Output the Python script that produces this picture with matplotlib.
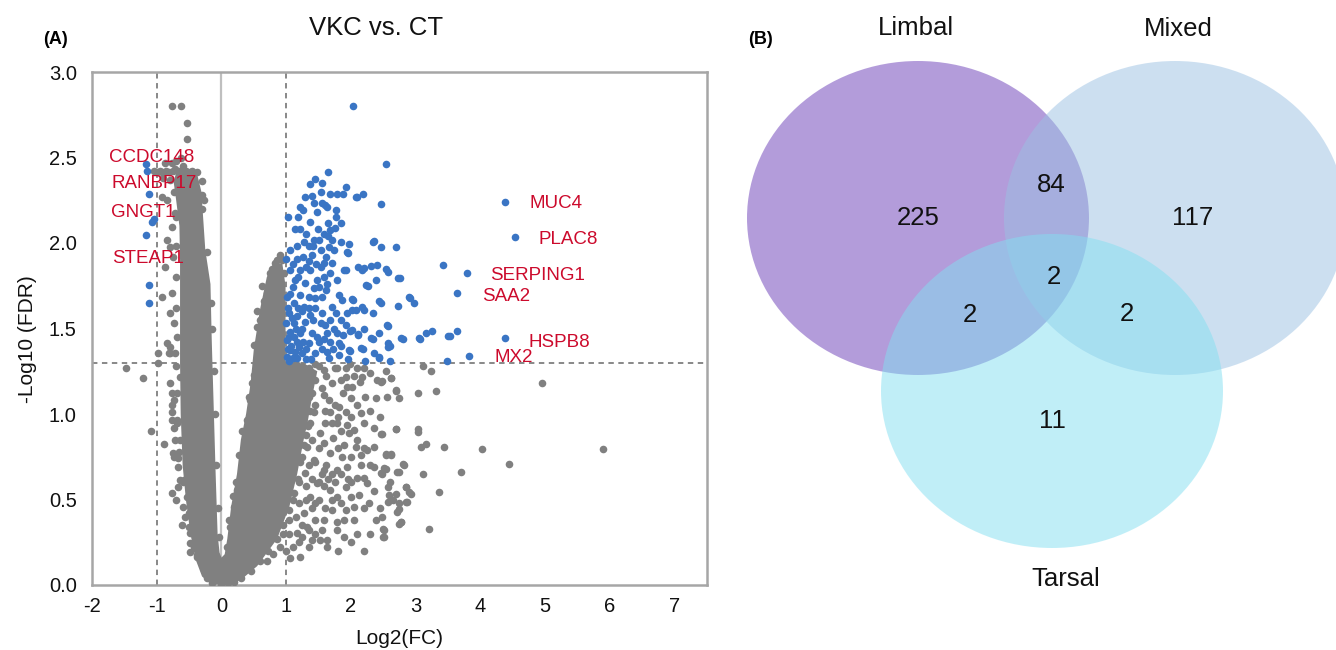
import numpy as np
import matplotlib.pyplot as plt
from matplotlib.patches import Ellipse

plt.rcParams['font.family'] = ['Liberation Sans', 'DejaVu Sans']

gray_color = "#808080"
blue_color = "#3a75c4"
label_color = "#cc0a2c"

fc_cut = 1.0
fdr_cut = 1.3

# outline of the solid V where the gray genes overlap completely (log2FC, -log10 FDR)
core_outline = np.array([
    (-0.15, 0.0), (-0.3, 0.05), (-0.4, 0.15), (-0.48, 0.3), (-0.55, 0.5), (-0.6, 0.7),
    (-0.63, 1.0), (-0.64, 1.3), (-0.64, 1.6), (-0.64, 1.9), (-0.65, 2.1), (-0.7, 2.25),
    (-0.74, 2.36), (-0.7, 2.41), (-0.38, 2.41), (-0.31, 2.3), (-0.25, 1.96), (-0.17, 1.76),
    (-0.15, 1.43), (-0.12, 1.04), (-0.09, 0.65), (-0.06, 0.3), (-0.03, 0.19),
    (0.0, 0.16), (0.05, 0.18), (0.09, 0.27), (0.15, 0.46), (0.24, 0.65), (0.3, 0.85),
    (0.38, 1.0), (0.45, 1.18), (0.5, 1.38), (0.6, 1.62), (0.7, 1.8), (0.8, 1.88),
    (0.94, 1.88), (0.99, 1.75), (0.99, 1.3), (1.3, 1.29), (1.48, 1.25), (1.4, 1.1),
    (1.33, 0.95), (1.27, 0.85), (1.17, 0.65), (1.05, 0.46), (0.86, 0.27), (0.55, 0.11),
    (0.3, 0.03), (0.1, 0.0),
])

# individually visible non-significant genes
gray_points = np.array([
    (-0.767, 2.801), (-0.622, 2.801), (-0.535, 2.70), (-0.535, 2.608),
    (-0.87, 2.466), (-0.767, 2.466), (-1.0, 2.415), (-0.922, 2.415), (-0.818, 2.415),
    (-0.72, 2.43), (-0.483, 2.417), (-0.38, 2.417), (-0.302, 2.28), (-1.05, 2.42),
    (-0.95, 2.42), (-0.85, 2.42), (-0.75, 2.42), (-0.65, 2.42), (-0.55, 2.42), (-0.45, 2.42),
    (-0.7, 2.48), (-0.6, 2.45), (-0.62, 2.5), (-0.8, 2.37), (-0.9, 2.38), (-0.74, 2.3),
    (-0.844, 2.017), (-0.793, 1.978), (-0.751, 1.92), (-0.87, 1.862), (-0.767, 1.706),
    (-0.793, 1.589), (-0.741, 1.53), (-0.844, 1.413), (-0.818, 1.355), (-0.715, 1.355),
    (-0.922, 2.27), (-0.844, 2.25), (-0.715, 2.173), (-0.767, 2.095), (-0.922, 1.682),
    (-0.793, 1.394), (-1.474, 1.267), (-1.205, 1.209), (-0.973, 1.355), (-0.973, 1.297),
    (-0.793, 1.355), (-1.087, 0.903), (-0.886, 0.825), (-0.767, 1.121), (-0.767, 1.053),
    (-0.741, 0.917), (-0.767, 0.965), (-0.715, 0.848), (-0.741, 0.751), (-0.679, 0.692),
    (-0.767, 0.536), (-0.70, 0.497), (-0.612, 0.351), (-0.483, 0.302), (-0.493, 0.195),
    (-0.38, 0.176), (-0.648, 0.614), (-0.648, 1.219),
    (-0.793, 1.18), (-0.741, 1.082), (-0.767, 1.014), (-0.69, 0.965), (-0.638, 0.848),
    (-0.751, 0.77), (-0.664, 0.741), (-0.586, 0.614), (-0.664, 0.575), (-0.535, 0.517),
    (-0.597, 0.458), (-0.56, 0.40), (-0.509, 0.341), (-0.483, 0.244), (-0.38, 0.166),
    (-0.277, 0.088),
    (-0.42, 0.22), (-0.5, 0.42), (-0.6, 0.6), (-0.66, 0.78), (-0.68, 0.95), (-0.69, 1.12),
    (-0.7, 1.28), (-0.69, 1.45), (-0.7, 1.62), (-0.7, 1.8), (-0.7, 1.98), (-0.71, 2.15),
    (-0.3, 2.2), (-0.23, 1.95), (-0.16, 1.65), (-0.14, 1.5), (-0.12, 1.25), (-0.1, 1.0),
    (-0.08, 0.7), (-0.06, 0.45), (-0.04, 0.28), (-0.3, 2.36), (-0.27, 2.25),
    (-0.15, 0.01), (0.0, 0.0), (0.1, 0.01), (-0.22, 0.04), (0.2, 0.02),
    (0.833, 1.881), (0.755, 1.823), (0.704, 1.706), (0.652, 1.608), (0.549, 1.511),
    (0.523, 1.404), (0.626, 1.569), (0.858, 1.803), (0.936, 1.90), (0.962, 1.823),
    (0.508, 1.404), (0.652, 1.394), (0.781, 1.384), (0.497, 1.228), (0.446, 1.082),
    (0.394, 0.965), (0.368, 0.897), (0.317, 0.751), (0.239, 0.556), (0.188, 0.458),
    (0.136, 0.341), (0.085, 0.224), (0.12, 0.38), (0.18, 0.52), (0.22, 0.6), (0.27, 0.76),
    (0.32, 0.9), (0.42, 1.1), (0.47, 1.18), (0.53, 1.3), (0.6, 1.55), (0.66, 1.66),
    (0.73, 1.76), (0.78, 1.85), (0.85, 1.9), (0.9, 1.93), (0.55, 1.6), (0.62, 1.75),
    (1.5, 1.28), (1.45, 1.2), (1.4, 1.12), (1.36, 1.02), (1.33, 0.93), (1.28, 0.82),
    (1.22, 0.72), (1.18, 0.62), (1.12, 0.54), (1.05, 0.44), (0.95, 0.35), (0.85, 0.27),
    (0.72, 0.2), (0.6, 0.14), (0.45, 0.08), (0.3, 0.04),
    (1.06, 1.27), (1.15, 1.29), (1.25, 1.28), (1.35, 1.27), (1.45, 1.29), (1.62, 1.22),
    (1.7, 1.18), (1.55, 1.15), (1.66, 1.08), (1.75, 1.27), (1.98, 1.29), (2.2, 1.27),
    (2.3, 1.24), (1.88, 1.12), (2.02, 1.16), (2.22, 1.1), (2.3, 1.02), (1.8, 0.98),
    (1.6, 0.95), (1.72, 0.86), (1.9, 0.82), (1.62, 0.7), (1.5, 0.6), (1.45, 0.48),
    (1.6, 0.45), (1.55, 0.32), (1.35, 0.22), (1.2, 0.25), (1.45, 0.38), (1.58, 0.58),
    (1.0, 1.2), (1.1, 1.15), (1.2, 1.2), (1.3, 1.15), (1.05, 1.05), (1.15, 1.0),
    (1.25, 1.05), (1.35, 1.1), (1.45, 1.05), (1.1, 0.9), (1.2, 0.95), (1.3, 0.88),
    (1.4, 0.85), (1.5, 0.8), (1.05, 0.8), (1.15, 0.78), (1.25, 0.75), (1.35, 0.7),
    (1.45, 0.72), (1.1, 0.68), (1.2, 0.6), (1.3, 0.58), (1.4, 0.62), (1.55, 0.65),
    (1.0, 0.55), (1.1, 0.5), (1.2, 0.48), (1.3, 0.5), (1.4, 0.45), (1.5, 0.5),
    (1.05, 0.38), (1.15, 0.4), (1.25, 0.35), (1.35, 0.32), (1.45, 0.3), (0.95, 0.3),
    (1.05, 0.3), (1.1, 0.22), (1.25, 0.28), (0.9, 0.22), (1.0, 0.2), (0.8, 0.18),
    (0.7, 0.14), (1.65, 0.62), (1.7, 0.65), (1.75, 0.6), (1.85, 0.65), (1.7, 0.5),
    (1.85, 0.48), (1.95, 0.62), (1.6, 1.02), (1.75, 1.05), (1.85, 1.2), (2.05, 1.22),
    (2.1, 1.05), (2.0, 0.98), (2.2, 0.95), (2.35, 0.92), (2.45, 0.98), (2.4, 1.2),
    (2.55, 1.1), (1.7, 0.95), (1.85, 0.9), (2.1, 0.85), (2.2, 0.8), (2.0, 0.75),
    (1.8, 0.8), (2.3, 0.7), (2.15, 0.7), (2.0, 0.6), (2.35, 0.55), (2.2, 0.45),
    (2.45, 0.45), (2.1, 0.3), (2.3, 0.3), (2.0, 0.25), (2.2, 0.2), (1.8, 0.2),
    (1.9, 0.38), (2.6, 0.6), (2.65, 0.5),
    (1.581, 1.258), (1.787, 1.267), (1.916, 1.267), (2.097, 1.267), (1.916, 1.219),
    (1.942, 1.16), (2.174, 1.219), (2.138, 1.189), (2.38, 1.092), (2.458, 1.189),
    (2.613, 1.209), (2.69, 1.141), (1.994, 1.092), (1.813, 1.043), (1.581, 1.111),
    (1.684, 1.014), (1.916, 1.014), (2.148, 1.004), (1.787, 0.946), (1.942, 0.936),
    (2.045, 0.907), (1.968, 0.887), (2.69, 0.911), (2.458, 0.883), (1.529, 0.887),
    (1.375, 0.946), (1.581, 0.829), (2.071, 0.809), (2.148, 0.761), (2.251, 0.79),
    (2.355, 0.809), (2.535, 0.761), (2.613, 0.761), (2.355, 0.692), (2.51, 0.682),
    (2.458, 0.653), (2.82, 0.702), (2.716, 0.663), (1.865, 0.751), (1.787, 0.673),
    (1.942, 0.692), (2.097, 0.624), (2.20, 0.624), (2.251, 0.595), (1.916, 0.575),
    (1.684, 0.556), (1.787, 0.517), (1.994, 0.517), (2.122, 0.527), (2.277, 0.478),
    (2.045, 0.458), (1.916, 0.439), (1.71, 0.439), (1.581, 0.38), (1.787, 0.371),
    (2.045, 0.38), (2.38, 0.38), (2.51, 0.322), (2.51, 0.283), (1.787, 0.322),
    (1.89, 0.283), (1.632, 0.263), (1.529, 0.263), (1.632, 0.224), (1.40, 0.263),
    (1.22, 0.166), (1.065, 0.156), (2.742, 0.478), (2.845, 0.575), (2.587, 0.527),
    (2.716, 0.429), (2.768, 0.371), (2.87, 0.488), (1.323, 0.809), (1.426, 0.731),
    (1.297, 0.653), (1.477, 0.595), (1.375, 0.517), (1.271, 0.419), (1.323, 0.341),
    (1.168, 0.302), (1.581, 0.673), (1.684, 0.77), (1.426, 1.014), (1.271, 1.082),
    (1.271, 1.16), (1.375, 1.219), (1.168, 1.238),
    (3.119, 1.281), (3.242, 1.252), (2.535, 1.252), (2.613, 1.209), (2.484, 1.195),
    (2.69, 1.137), (2.742, 1.092), (3.041, 1.121), (3.32, 1.137), (4.955, 1.18),
    (2.69, 0.913), (3.041, 0.911), (3.041, 0.895), (2.484, 0.883), (3.087, 0.809),
    (3.155, 0.823), (3.438, 0.809), (4.021, 0.796), (5.89, 0.796), (2.535, 0.766),
    (2.613, 0.766), (2.809, 0.708), (4.445, 0.708), (2.535, 0.677), (2.742, 0.663),
    (2.484, 0.649), (3.119, 0.649), (3.707, 0.663), (2.572, 0.575), (2.845, 0.575),
    (2.897, 0.546), (2.933, 0.531), (3.361, 0.546), (2.69, 0.532), (2.572, 0.488),
    (2.845, 0.488), (2.742, 0.443), (2.484, 0.40), (2.742, 0.357), (2.778, 0.371),
    (3.206, 0.326), (2.50, 0.326), (2.50, 0.279),
])

# significant genes (|log2FC| > 1 and -log10 FDR > 1.3)
blue_points = np.array([
    (2.536, 2.462), (1.643, 2.417), (1.452, 2.374), (1.375, 2.345), (1.555, 2.349),
    (1.917, 2.329), (1.53, 2.30), (1.297, 2.271), (1.40, 2.275), (1.684, 2.286),
    (1.788, 2.286), (1.88, 2.286), (2.071, 2.271), (2.19, 2.286), (1.426, 2.236),
    (1.555, 2.236), (1.633, 2.212), (2.458, 2.226), (1.22, 2.212), (1.261, 2.193),
    (1.762, 2.193), (1.024, 2.150), (1.179, 2.150), (1.762, 2.150), (1.839, 2.118),
    (1.643, 2.118), (1.143, 2.08), (1.22, 2.08), (1.488, 2.08), (1.684, 2.076),
    (1.643, 2.041), (1.272, 2.007), (1.426, 2.017), (1.504, 2.017), (1.71, 2.017),
    (1.839, 2.007), (2.345, 2.007), (1.168, 1.982), (1.349, 1.982), (1.658, 1.978),
    (1.968, 1.994), (2.469, 1.974), (2.69, 1.974), (1.055, 1.959), (1.53, 1.959),
    (1.736, 1.959), (1.40, 1.929), (1.953, 1.943), (1.004, 1.904), (1.168, 1.904),
    (1.349, 1.896), (1.581, 1.881), (1.71, 1.881), (2.113, 1.857), (2.20, 1.851),
    (2.314, 1.865), (2.407, 1.871), (2.536, 1.846), (1.917, 1.842), (3.428, 1.871),
    (1.055, 1.842), (1.21, 1.842), (1.375, 1.842), (1.53, 1.861), (1.684, 1.822),
    (1.143, 1.783), (1.297, 1.764), (1.478, 1.783), (1.633, 1.760), (1.777, 1.783),
    (2.381, 1.783), (2.226, 1.754), (2.732, 1.797), (1.106, 1.744), (1.426, 1.735),
    (1.607, 1.725), (1.014, 1.686), (1.22, 1.696), (1.349, 1.686), (1.555, 1.686),
    (1.813, 1.696), (2.035, 1.666), (2.897, 1.682), (2.974, 1.651), (1.117, 1.647),
    (1.272, 1.627), (1.452, 1.618), (1.71, 1.627), (1.865, 1.666), (2.174, 1.627),
    (2.458, 1.651), (2.732, 1.633), (1.04, 1.588), (1.168, 1.573), (1.375, 1.579),
    (1.555, 1.588), (1.762, 1.588), (1.942, 1.588), (2.071, 1.608), (2.345, 1.592),
    (1.003, 1.53), (1.117, 1.53), (1.297, 1.54), (1.53, 1.53), (1.684, 1.549),
    (1.917, 1.52), (2.02, 1.491), (2.561, 1.52), (1.065, 1.481), (1.22, 1.471),
    (1.40, 1.471), (1.633, 1.471), (1.788, 1.471), (2.107, 1.461), (2.303, 1.442),
    (2.432, 1.471), (2.768, 1.442), (3.155, 1.471), (3.248, 1.487), (3.506, 1.458),
    (1.014, 1.432), (1.168, 1.423), (1.349, 1.413), (1.504, 1.423), (1.684, 1.423),
    (1.813, 1.413), (1.968, 1.374), (2.149, 1.384), (2.572, 1.413), (2.572, 1.393),
    (1.065, 1.374), (1.245, 1.354), (1.452, 1.354), (1.633, 1.364), (1.813, 1.345),
    (2.355, 1.354), (2.432, 1.335), (1.01, 1.335), (1.168, 1.325),
    (3.052, 1.442), (3.635, 1.487), (3.48, 1.31), (3.826, 1.341), (4.378, 1.442),
    (3.635, 1.705), (3.79, 1.826), (4.533, 2.033), (4.378, 2.237), (2.035, 2.801),
    (2.60, 1.31), (2.60, 1.40), (2.34, 1.44), (2.44, 1.33), (2.21, 1.31), (2.18, 1.38),
    (1.99, 1.37), (1.96, 1.32), (1.85, 1.40), (2.20, 1.61), (2.44, 1.66), (2.26, 1.75),
    (2.17, 1.84), (2.57, 1.83), (2.75, 1.795), (2.36, 2.01), (1.94, 1.95), (1.89, 1.84),
    (2.02, 1.67), (2.02, 1.61), (2.20, 1.50), (2.11, 1.47), (1.98, 1.485), (2.91, 1.68),
    (2.80, 1.44), (3.07, 1.44), (3.53, 1.456), (2.57, 1.516), (2.09, 2.27),
    (1.05, 1.31), (1.1, 1.33), (1.13, 1.36), (1.08, 1.40), (1.12, 1.45), (1.04, 1.45),
    (1.2, 1.39), (1.26, 1.42), (1.3, 1.38), (1.15, 1.50), (1.25, 1.50), (1.3, 1.32),
    (1.38, 1.32), (1.03, 1.38), (1.09, 1.56), (1.02, 1.62), (1.06, 1.70), (1.18, 1.62),
    (1.25, 1.60), (1.35, 1.62), (1.42, 1.55), (1.48, 1.45), (1.55, 1.38), (1.58, 1.44),
    (1.6, 1.52), (1.66, 1.33), (1.72, 1.38), (1.74, 1.50), (1.84, 1.55), (1.87, 1.46),
    (1.44, 1.68), (1.50, 1.74), (1.58, 1.80), (1.62, 1.92), (1.46, 1.88), (1.30, 1.86),
    (1.18, 1.80), (1.10, 1.88), (1.26, 1.92), (1.42, 1.98), (1.58, 2.05), (1.75, 2.09),
    (1.60, 2.22), (1.48, 2.18), (1.36, 2.12), (1.30, 2.05),
    (-1.164, 2.462), (-1.143, 2.423), (-1.113, 2.284), (-1.076, 2.125), (-1.05, 2.14),
    (-1.164, 2.047), (-1.123, 1.752), (-1.123, 1.651),
])

genes = ["CCDC148", "RANBP17", "GNGT1", "STEAP1", "MUC4", "PLAC8", "SERPING1", "SAA2", "HSPB8", "MX2"]
gene_x = [-1.74, -1.70, -1.70, -1.69, 4.76, 4.90, 4.15, 4.02, 4.75, 4.22]
gene_y = [2.50, 2.35, 2.18, 1.91, 2.23, 2.02, 1.81, 1.69, 1.42, 1.33]

x_ticks = [-2, -1, 0, 1, 2, 3, 4, 5, 6, 7]
y_ticks = [0.0, 0.5, 1.0, 1.5, 2.0, 2.5, 3.0]

# Venn counts, regions keyed Limbal/Mixed/Tarsal membership
venn_sets = ["Limbal", "Mixed", "Tarsal"]
venn_counts = {"100": 225, "010": 117, "001": 11, "110": 84, "101": 2, "011": 2, "111": 2}

W, H = 1336, 650
fig = plt.figure(figsize=(W / 100, H / 100), dpi=100)

# ---- (A) volcano plot
ax = fig.add_axes([92 / W, 65 / H, 615 / W, 513 / H])
ax.set_xlim(-2, 7.5)
ax.set_ylim(0, 3)

ax.axvline(0, color="#bfbfbf", lw=1.6, zorder=1)
for xv in (-fc_cut, fc_cut):
    ax.axvline(xv, color="#7f7f7f", lw=1.3, ls=(0, (3, 2.5)), zorder=1)
ax.axhline(fdr_cut, color="#7f7f7f", lw=1.3, ls=(0, (3, 2.5)), zorder=1)

ax.fill(core_outline[:, 0], core_outline[:, 1], color=gray_color, lw=0, zorder=2)
ax.scatter(gray_points[:, 0], gray_points[:, 1], s=30, color=gray_color, lw=0, zorder=3)
ax.scatter(blue_points[:, 0], blue_points[:, 1], s=30, color=blue_color, lw=0, zorder=4)

for g, gx, gy in zip(genes, gene_x, gene_y):
    ax.text(gx, gy, g, color=label_color, fontsize=13.5, ha="left", va="center", zorder=5)

ax.set_xticks(x_ticks)
ax.set_xticklabels([str(t) for t in x_ticks])
ax.set_yticks(y_ticks)
ax.set_yticklabels([f"{t:.1f}" for t in y_ticks])
ax.tick_params(length=0, labelsize=14.5, colors="#111111")
ax.tick_params(axis="y", pad=11)
ax.tick_params(axis="x", pad=9)
for sp in ax.spines.values():
    sp.set_color("#a6a6a6")
    sp.set_linewidth(1.8)
ax.set_xlabel("Log2(FC)", fontsize=15, color="#111111")
ax.set_ylabel("-Log10 (FDR)", fontsize=15, color="#111111")
ax.xaxis.set_label_coords(0.5, -0.086)
ax.yaxis.set_label_coords(-0.09, 0.48)

fig.text(376 / W, 1 - 28 / H, "VKC vs. CT", fontsize=18.5, ha="center", va="center", color="#111111")
fig.text(55 / W, 1 - 39 / H, "(A)", fontsize=13, fontweight="bold", ha="center", va="center")

# ---- (B) Venn diagram, drawn in pixel space of the right half
vx = fig.add_axes([720 / W, 0, 616 / W, 1])
vx.set_xlim(720, W)
vx.set_ylim(H, 0)
vx.axis("off")

ell_centers = [(918, 218), (1175, 218), (1052, 391)]
ell_colors = ["#693bb7", "#9bc1e3", "#83dff1"]
for c, col in zip(ell_centers, ell_colors):
    vx.add_patch(Ellipse(c, 342, 314, facecolor=col, alpha=0.5, lw=0))

region_pos = {"100": (918, 218), "010": (1193, 218), "001": (1052, 421), "110": (1051, 185),
              "101": (970, 315), "011": (1127, 314), "111": (1054, 277)}
for key, n in venn_counts.items():
    px, py = region_pos[key]
    vx.text(px, py, str(n), fontsize=18.5, ha="center", va="center", color="#111111")

set_label_pos = [(916, 28), (1178, 29), (1066, 579)]
for name, (px, py) in zip(venn_sets, set_label_pos):
    vx.text(px, py, name, fontsize=18.5, ha="center", va="center", color="#111111")
vx.text(761, 39, "(B)", fontsize=13, fontweight="bold", ha="center", va="center")

fig.savefig("out.png", dpi=100)
